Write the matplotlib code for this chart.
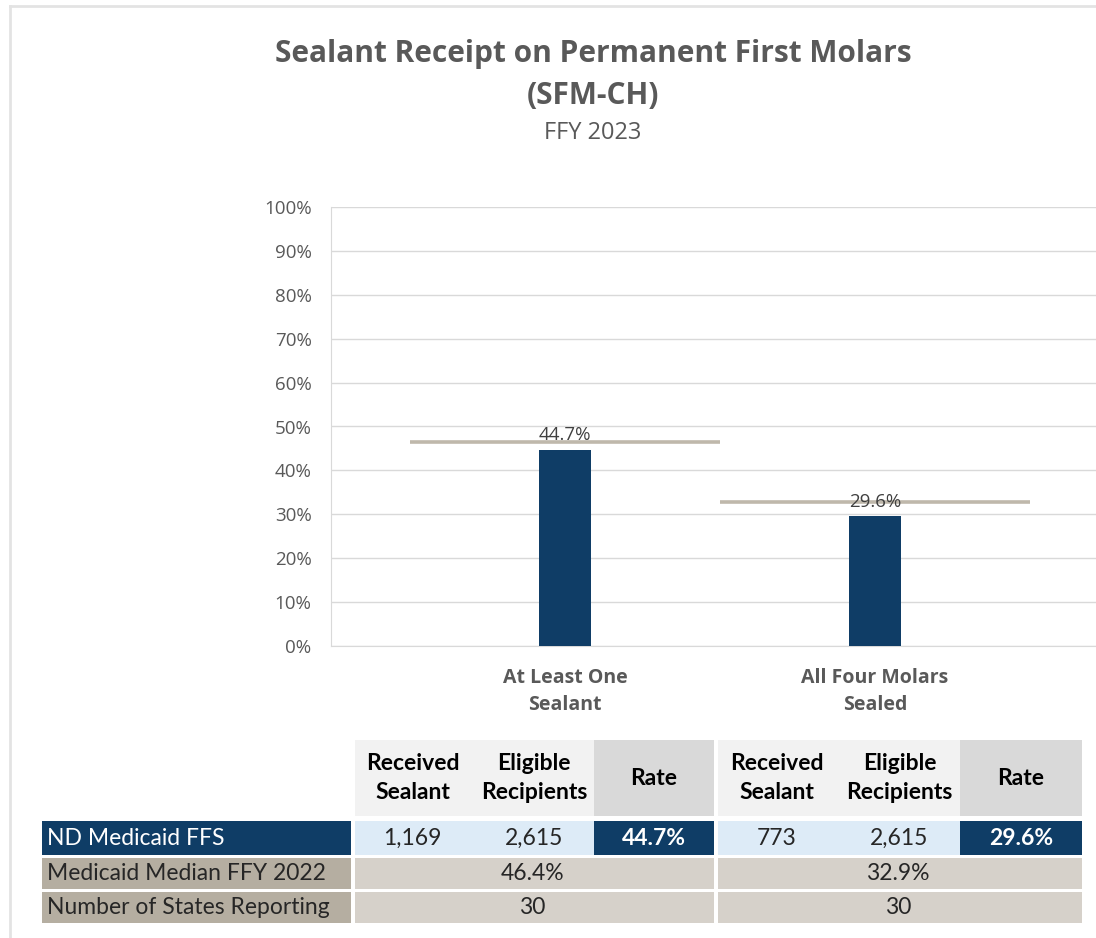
import matplotlib
matplotlib.use("Agg")
import matplotlib.pyplot as plt
from matplotlib.patches import Rectangle
from matplotlib.lines import Line2D

# ---------------- data ----------------
categories = ["At Least One\nSealant", "All Four Molars\nSealed"]
rates = [44.7, 29.6]
medians = [46.4, 32.9]
received = [1169, 773]
eligible = [2615, 2615]
states_reporting = [30, 30]
row_labels = ["ND Medicaid FFS", "Medicaid Median FFY 2022", "Number of States Reporting"]
header_labels = ["Received\nSealant", "Eligible\nRecipients", "Rate"]
yticks = [0, 10, 20, 30, 40, 50, 60, 70, 80, 90, 100]
title = "Sealant Receipt on Permanent First Molars\n(SFM-CH)"
subtitle = "FFY 2023"

# ---------------- style ----------------
W, H = 1096, 938
NAVY = "#0F3D66"
TEXT = "#595959"
GRID = "#D9D9D9"
MEDIAN = "#BFB8AB"
LIGHTBLUE = "#DDEBF7"
HDR_LIGHT = "#F2F2F2"
HDR_DARK = "#D9D9D9"
TAN_DARK = "#B5AEA1"
TAN_LIGHT = "#D6D1CA"
MAIN_FONT = ["Open Sans", "DejaVu Sans"]
TABLE_FONT = ["Lato", "DejaVu Sans"]

fig = plt.figure(figsize=(W / 100, H / 100), dpi=100)
fig.patch.set_facecolor("white")


def fx(px):
    return px / W


def fy(py):
    return 1 - py / H


# outer frame (left and top border)
fig.add_artist(Line2D([fx(10), fx(10)], [fy(6), fy(938)], color="#E3E3E3", lw=2))
fig.add_artist(Line2D([fx(10), fx(1096)], [fy(6), fy(6)], color="#E3E3E3", lw=2))

# titles
fig.text(fx(593), fy(75), title, ha="center", va="center", fontsize=21.5,
         fontweight="bold", color=TEXT, family=MAIN_FONT, linespacing=1.5)
fig.text(fx(593), fy(133), subtitle, ha="center", va="center", fontsize=17,
         color=TEXT, family=MAIN_FONT)

# ---------------- chart ----------------
left, right, top, bottom = 331, 1096, 207, 646
ax = fig.add_axes([fx(left), fy(bottom), (right - left) / W, (bottom - top) / H])
x = list(range(len(categories)))
bars = ax.bar(x, rates, width=0.167, color=NAVY, zorder=3)
ax.bar_label(bars, labels=[f"{v:.1f}%" for v in rates], padding=4,
             fontsize=13.5, color="#404040", family=MAIN_FONT, zorder=5)
for i, m in enumerate(medians):
    ax.plot([i - 0.5, i + 0.5], [m, m], color=MEDIAN, lw=2.6, zorder=4,
            solid_capstyle="butt")

ax.set_ylim(0, 100)
ax.set_xlim(-0.755, 1.713)
ax.set_yticks(yticks)
ax.set_yticklabels([f"{t}%" for t in yticks], fontsize=13.5, color=TEXT,
                   family=MAIN_FONT)
ax.set_xticks(x)
ax.set_xticklabels(categories, fontsize=14, fontweight="bold", color=TEXT,
                   family=MAIN_FONT, linespacing=1.45)
ax.tick_params(axis="y", length=0, pad=14)
ax.tick_params(axis="x", length=0, pad=16)
ax.grid(axis="y", color=GRID, lw=1, zorder=0)
for s in ["top", "right"]:
    ax.spines[s].set_visible(False)
ax.spines["left"].set_color(GRID)
ax.spines["bottom"].set_color(GRID)
ax.set_axisbelow(True)

# ---------------- table ----------------
def cell(x0, y0, x1, y1, color):
    fig.add_artist(Rectangle((fx(x0), fy(y1)), (x1 - x0) / W, (y1 - y0) / H,
                             facecolor=color, edgecolor="none"))


def txt(px, py, s, **kw):
    kw.setdefault("fontsize", 16.5)
    kw.setdefault("color", "black")
    kw.setdefault("family", TABLE_FONT)
    fig.text(fx(px), fy(py), s, va="center", **kw)


groups = [(355, 594, 714), (718, 960, 1082)]
hdr_y = (740, 816)
rows_y = [(821, 855), (858, 889), (892, 923)]
label_x = (42, 351)

for g, (gx0, rx0, rx1) in enumerate(groups):
    # header
    cell(gx0, hdr_y[0], rx0, hdr_y[1], HDR_LIGHT)
    cell(rx0, hdr_y[0], rx1, hdr_y[1], HDR_DARK)
    mid = (gx0 + rx0) / 2
    cols = [(gx0 + mid) / 2 - 2, (mid + rx0) / 2, (rx0 + rx1) / 2]
    hy = (hdr_y[0] + hdr_y[1]) / 2
    for c, lab in zip(cols, header_labels):
        txt(c, hy, lab, ha="center", fontweight="bold", linespacing=1.45)
    # row 1
    y0, y1 = rows_y[0]
    cell(gx0, y0, rx0, y1, LIGHTBLUE)
    cell(rx0, y0, rx1, y1, NAVY)
    ry = (y0 + y1) / 2
    txt(cols[0], ry, f"{received[g]:,}", ha="center", color="#262626")
    txt(cols[1], ry, f"{eligible[g]:,}", ha="center", color="#262626")
    txt(cols[2], ry, f"{rates[g]:.1f}%", ha="center", color="white",
        fontweight="bold")
    # rows 2-3 (merged)
    for (y0, y1), val in zip(rows_y[1:], [f"{medians[g]:.1f}%", f"{states_reporting[g]}"]):
        cell(gx0, y0, rx1, y1, TAN_LIGHT)
        txt((gx0 + rx1) / 2 - 2, (y0 + y1) / 2, val, ha="center", color="#262626")

for i, (lab, (y0, y1)) in enumerate(zip(row_labels, rows_y)):
    cell(label_x[0], y0, label_x[1], y1, NAVY if i == 0 else TAN_DARK)
    txt(label_x[0] + 5, (y0 + y1) / 2, lab, ha="left",
        color="white" if i == 0 else "#262626")

fig.savefig("out.png", dpi=100, facecolor="white")
